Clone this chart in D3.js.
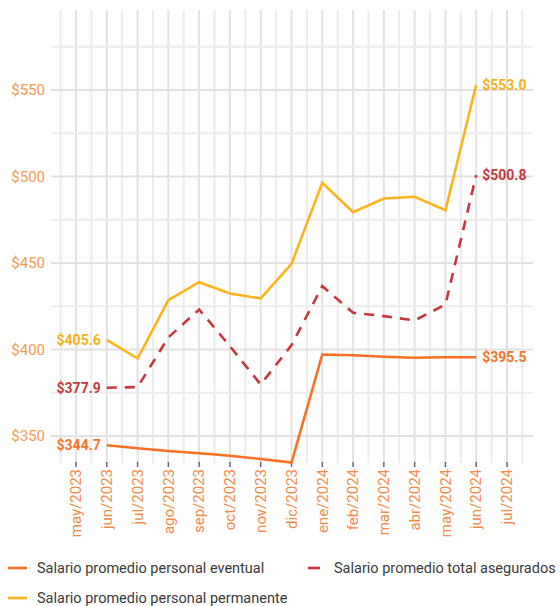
<!DOCTYPE html>
<html><head><meta charset="utf-8">
<script src="https://cdn.jsdelivr.net/npm/d3@7"></script>
<style>body{margin:0;background:#fff;font-family:Roboto,"Noto Sans",sans-serif}</style>
</head><body><svg id="c" width="560" height="606"></svg>
<script>
const months = ["may/2023","jun/2023","jul/2023","ago/2023","sep/2023","oct/2023","nov/2023","dic/2023","ene/2024","feb/2024","mar/2024","abr/2024","may/2024","jun/2024","jul/2024"];
const dataMonths = ["jun/2023","jul/2023","ago/2023","sep/2023","oct/2023","nov/2023","dic/2023","ene/2024","feb/2024","mar/2024","abr/2024","may/2024","jun/2024"];
const eventual = [344.7,342.9,341.3,340.0,338.6,336.7,334.6,397.1,396.7,395.8,395.2,395.5,395.5];
const permanente = [405.6,394.8,428.5,438.9,432.4,429.5,449.5,496.4,479.4,487.3,488.3,480.5,553.0];
const total = [377.9,378.3,407.0,423.1,401.9,379.8,402.5,436.6,421.2,419.3,416.8,426.0,500.8];
const yTicks = [350,400,450,500,550];
const yGrid = [350,375,400,425,450,475,500,525,550,575];
const seriesNames = ["Salario promedio personal eventual","Salario promedio total asegurados","Salario promedio personal permanente"];

const svg = d3.select("#c");
const x = d3.scalePoint().domain(months).range([76,507]);
const step = x.step();
const y = d3.scaleLinear().domain([350,550]).range([436,90]);
const pTop = 10, pBottom = 463, pLeft = 51, pRight = 533;

// vertical gridlines (half-month)
const g = svg.append("g");
const vx = [];
months.forEach((m,i)=>{ vx.push({x:x(m)-step/2,major:false}); vx.push({x:x(m),major:true}); });
vx.push({x:x(months[months.length-1])+step/2,major:false});
g.selectAll("line.v").data(vx).join("line")
  .attr("x1",d=>d.x).attr("x2",d=>d.x).attr("y1",pTop).attr("y2",pBottom)
  .attr("stroke",d=>d.major?"#e2e2e2":"#ececec").attr("stroke-width",2);
g.selectAll("line.h").data(yGrid).join("line")
  .attr("x1",pLeft).attr("x2",pRight).attr("y1",d=>y(d)).attr("y2",d=>y(d))
  .attr("stroke",d=>yTicks.includes(d)?"#e2e2e2":"#ececec").attr("stroke-width",2);

// y labels
svg.append("g").selectAll("text").data(yTicks).join("text")
  .attr("x",45).attr("y",d=>y(d)).attr("dy","0.35em").attr("text-anchor","end")
  .attr("font-size",15).attr("fill","#f7994f").text(d=>"$"+d);

// x axis ticks & labels
const xa = svg.append("g");
xa.selectAll("line").data(months).join("line")
  .attr("x1",d=>x(d)).attr("x2",d=>x(d)).attr("y1",pBottom-1).attr("y2",pBottom+4)
  .attr("stroke","#666").attr("stroke-width",1.5);
xa.selectAll("text").data(months).join("text")
  .attr("transform",d=>`translate(${x(d)},${pBottom+6}) rotate(-90)`)
  .attr("text-anchor","end").attr("dy","0.35em")
  .attr("font-size",15).attr("fill","#f7894a").text(d=>d);

const line = d3.line().x((d,i)=>x(dataMonths[i])).y(d=>y(d));
const cEvent = "#fb6f22", cPerm = "#fdb31a", cTot = "#c8363e";
svg.append("path").datum(total).attr("d",line).attr("fill","none")
  .attr("stroke",cTot).attr("stroke-width",2.6).attr("stroke-dasharray","10,8");
svg.append("path").datum(permanente).attr("d",line).attr("fill","none")
  .attr("stroke",cPerm).attr("stroke-width",2.6);
svg.append("path").datum(eventual).attr("d",line).attr("fill","none")
  .attr("stroke",cEvent).attr("stroke-width",2.6);

// end labels
const last = dataMonths.length-1;
const endLab = [
  {v:permanente, c:"#f5b01e"},
  {v:total, c:"#c43a3e"},
  {v:eventual, c:"#f7742a"}
];
endLab.forEach(s=>{
  svg.append("text").attr("x",x(dataMonths[0])-6).attr("y",y(s.v[0])).attr("dy","0.35em")
    .attr("text-anchor","end").attr("font-size",14).attr("font-weight","bold").attr("fill",s.c)
    .text("$"+s.v[0].toFixed(1));
  svg.append("text").attr("x",x(dataMonths[last])+6).attr("y",y(s.v[last])).attr("dy","0.35em")
    .attr("text-anchor","start").attr("font-size",14).attr("font-weight","bold").attr("fill",s.c)
    .text("$"+s.v[last].toFixed(1));
});

// legend
const leg = [
  {name:seriesNames[0], c:cEvent, x:8, y:568, w:19, tx:37},
  {name:seriesNames[1], c:cTot, x:308, y:568, w:12, tx:334},
  {name:seriesNames[2], c:cPerm, x:8, y:598, w:19, tx:37}
];
const lg = svg.append("g").selectAll("g").data(leg).join("g");
lg.append("line").attr("x1",d=>d.x).attr("x2",d=>d.x+d.w).attr("y1",d=>d.y).attr("y2",d=>d.y)
  .attr("stroke",d=>d.c).attr("stroke-width",2.6);
lg.append("text").attr("x",d=>d.tx).attr("y",d=>d.y).attr("dy","0.35em")
  .attr("font-size",14.5).attr("fill","#3a3a3a").text(d=>d.name);
</script></body></html>
